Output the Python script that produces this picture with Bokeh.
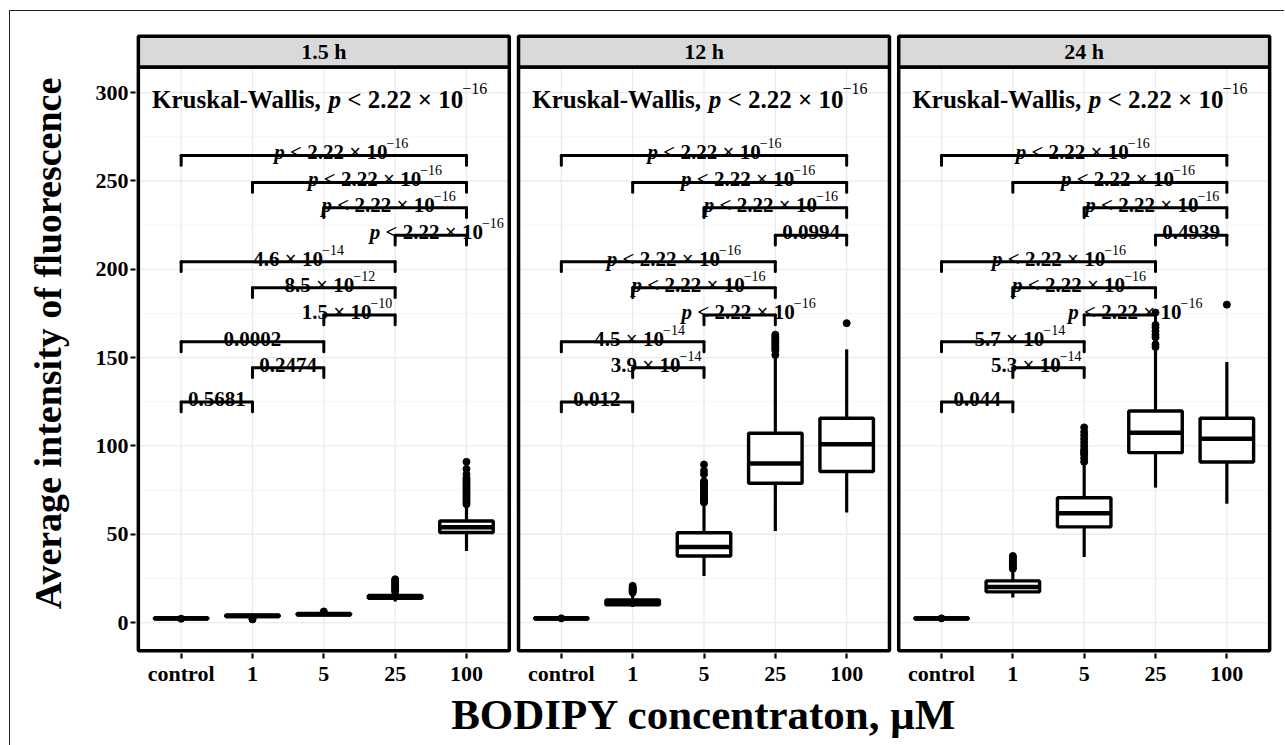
from bokeh.plotting import figure
from bokeh.models import ColumnDataSource, FixedTicker, Range1d, CustomJSTickFormatter
from bokeh.core.properties import value
from bokeh.embed import file_html
from bokeh.resources import INLINE

# ---------------- data ----------------
panels = ["1.5 h", "12 h", "24 h"]
categories = ["control", "1", "5", "25", "100"]

# box statistics (lower whisker, q1, median, q3, upper whisker) per panel
lo_15 = [1.6, 2.6, 3.8, 12.0, 40.5]
q1_15 = [2.0, 3.4, 4.3, 13.8, 51.0]
med_15 = [2.4, 3.8, 4.7, 14.5, 54.0]
q3_15 = [2.8, 4.3, 5.2, 15.3, 57.5]
hi_15 = [3.2, 5.0, 6.0, 17.0, 66.5]
out_15 = [[2.2], [1.8, 2.1], [6.3],
          [17.5, 18.5, 19.5, 20.5, 21.5, 22.5, 23.5, 24.5],
          [67, 68, 69, 70, 71, 72, 73, 74, 75, 76, 77, 78, 79, 80, 81, 82, 84, 87, 91]]

lo_12 = [1.5, 8.8, 26.4, 51.9, 62.3]
q1_12 = [2.0, 10.0, 37.7, 78.9, 85.5]
med_12 = [2.3, 11.5, 42.8, 90.0, 101.0]
q3_12 = [2.7, 12.8, 50.9, 107.2, 115.7]
hi_12 = [3.3, 16.5, 67.0, 151.0, 154.7]
out_12 = [[2.4], [17.0, 17.5, 18.0, 18.5, 19.0, 19.5, 20.0, 20.8],
          [68, 69, 70, 71, 72, 73, 74, 75, 76, 77, 78, 79, 80, 84, 86, 89.5],
          [151.5, 154, 155, 156, 157, 158, 159, 160, 161, 162, 163],
          [169.5]]

lo_24 = [1.6, 14.2, 37.2, 76.4, 67.3]
q1_24 = [2.0, 17.4, 54.2, 96.2, 90.9]
med_24 = [2.3, 20.2, 61.9, 107.5, 104.1]
q3_24 = [2.7, 23.6, 70.7, 119.8, 115.7]
hi_24 = [3.2, 29.5, 89.6, 154.7, 147.5]
out_24 = [[2.4], [30.5, 31, 32, 33, 34, 35, 36, 37, 37.7],
          [91, 93, 95, 96, 97, 98, 100, 102, 104, 106, 108, 110.5],
          [156, 157.5, 161.5, 163, 165, 167, 168.5, 175.5],
          [180]]

# pairwise comparisons (group indices) and bracket heights
pairs = [(0, 4), (1, 4), (2, 4), (3, 4), (0, 3), (1, 3), (2, 3), (0, 2), (1, 2), (0, 1)]
bracket_y = [264.5, 249.2, 234.9, 219.3, 204.3, 189.6, 174.2, 159.0, 144.3, 124.9]
p_15 = ["p < 2.22e-16", "p < 2.22e-16", "p < 2.22e-16", "p < 2.22e-16",
        "4.6e-14", "8.5e-12", "1.5e-10", "0.0002", "0.2474", "0.5681"]
p_12 = ["p < 2.22e-16", "p < 2.22e-16", "p < 2.22e-16", "0.0994",
        "p < 2.22e-16", "p < 2.22e-16", "p < 2.22e-16", "4.5e-14", "3.9e-14", "0.012"]
p_24 = ["p < 2.22e-16", "p < 2.22e-16", "p < 2.22e-16", "0.4939",
        "p < 2.22e-16", "p < 2.22e-16", "p < 2.22e-16", "5.7e-14", "5.3e-14", "0.044"]
kw_label = "Kruskal-Wallis, p < 2.22e-16"
y_ticks = [0, 50, 100, 150, 200, 250, 300]

# ---------------- layout constants ----------------
PXU = 71.3                 # px per category unit
OFF = 380.0 / PXU          # panel offset in x units
X0 = [0.0, OFF, 2 * OFF]
Y_LO, Y_HI, STRIP_TOP = -16.0, 314.5, 332.0
BOXW = 0.75
label_nudge = [[18, 16, -6, 6.5, 11, 6.5, -12, 0, 0, 0],
               [11, 9, -4, 0, 6, -5, 9.5, 7.5, -11.7, 0],
               [-1, 8.6, -2.7, 0, 11, -4.7, 16, 7.5, -11.7, 0]]
FONT = "Liberation Serif"
NB = "\u00a0"

stats = [(lo_15, q1_15, med_15, q3_15, hi_15, out_15),
         (lo_12, q1_12, med_12, q3_12, hi_12, out_12),
         (lo_24, q1_24, med_24, q3_24, hi_24, out_24)]
plabels = [p_15, p_12, p_24]

# approximate glyph advance widths (Times-metric), per 1000 em
BOLD_W = {' ': 250, NB: 250, '.': 250, ',': 250, '-': 333, '<': 570, '\u00d7': 570, 'K': 778,
          'W': 1000, 'a': 500, 'i': 278, 'k': 556, 'l': 278, 'r': 444, 's': 389, 'u': 556}
REG_W = {'\u2212': 564}


def text_width(s, style, size):
    tot = 0
    for ch in s:
        if ch.isdigit():
            tot += 500
        elif style == "bold italic":
            tot += 500
        elif style == "bold":
            tot += BOLD_W.get(ch, 500)
        else:
            tot += REG_W.get(ch, 500)
    return tot / 1000.0 * size


def pieces(label, main, sup, rise):
    out = []
    s = label
    if s.startswith("Kruskal-Wallis, "):
        out.append(("Kruskal-Wallis," + NB, "bold", main, 0))
        s = s[len("Kruskal-Wallis, "):]
    if s.startswith("p <"):
        m, e = s[3:].strip().split("e")
        out.append(("p", "bold italic", main, 0))
        out.append((NB + "<" + NB + m + NB + "\u00d7" + NB + "10", "bold", main, 0))
        out.append((e.replace("-", "\u2212"), "normal", sup, rise))
    elif "e" in s:
        m, e = s.split("e")
        out.append((m + NB + "\u00d7" + NB + "10", "bold", main, 0))
        out.append((e.replace("-", "\u2212"), "normal", sup, rise))
    else:
        out.append((s, "bold", main, 0))
    return out


groups = {}


def add_label(x, y, label, main, sup, rise, align_center, nudge, base_off):
    ps = pieces(label, main, sup, rise)
    widths = [text_width(t, st, sz) for t, st, sz, r in ps]
    total = sum(widths)
    start = nudge - total / 2.0 if align_center else nudge
    cur = start
    for (t, st, sz, r), w in zip(ps, widths):
        key = (st, sz)
        g = groups.setdefault(key, dict(x=[], y=[], text=[], xo=[], yo=[]))
        g["x"].append(x)
        g["y"].append(y)
        g["text"].append(t)
        g["xo"].append(cur - (1 if st == "normal" else 0))
        g["yo"].append(base_off - r)
        cur += w


# ---------------- figure ----------------
p = figure(x_range=Range1d(-0.64, 2 * OFF + 4.64), y_range=Range1d(-17.5, 333.5),
           frame_width=1137, frame_height=620,
           min_border_left=125, min_border_right=12, min_border_top=22, min_border_bottom=92,
           output_backend="svg", toolbar_location=None,
           margin=(10, 0, 0, 9),
           styles={"border-left": "1px solid #222", "border-top": "1px solid #222"})
p.grid.visible = False
p.outline_line_color = None
p.background_fill_color = "white"
p.border_fill_color = "white"

# gridlines per panel
gx0, gy0, gx1, gy1 = [], [], [], []
mx0, my0, mx1, my1 = [], [], [], []
for k in range(3):
    xl, xr = X0[k] - 0.6, X0[k] + 4.6
    for yt in y_ticks:
        gx0.append(xl); gx1.append(xr); gy0.append(yt); gy1.append(yt)
    for yt in y_ticks[:-1]:
        mx0.append(xl); mx1.append(xr); my0.append(yt + 25); my1.append(yt + 25)
    for i in range(len(categories)):
        gx0.append(X0[k] + i); gx1.append(X0[k] + i); gy0.append(Y_LO); gy1.append(Y_HI)
p.segment(mx0, my0, mx1, my1, line_color="#f2f2f2", line_width=0.8)
p.segment(gx0, gy0, gx1, gy1, line_color="#ebebeb", line_width=1.3)

# brackets
bx0, by0, bx1, by1 = [], [], [], []
TIP = 5.6
for k in range(3):
    for (a, b), yb in zip(pairs, bracket_y):
        xa, xb = X0[k] + a, X0[k] + b
        bx0 += [xa, xa, xb]; bx1 += [xb, xa, xb]
        by0 += [yb, yb, yb]; by1 += [yb, yb - TIP, yb - TIP]
p.segment(bx0, by0, bx1, by1, line_color="black", line_width=3, line_cap="round")

# boxplots
for k in range(3):
    lo, q1, med, q3, hi, outs = stats[k]
    xs = [X0[k] + i for i in range(len(categories))]
    p.segment(xs, q3, xs, hi, line_color="black", line_width=3.2)
    p.segment(xs, q1, xs, lo, line_color="black", line_width=3.2)
    p.quad(left=[x - BOXW / 2 for x in xs], right=[x + BOXW / 2 for x in xs],
           bottom=q1, top=q3, fill_color="white", line_color="black", line_width=3.4)
    p.segment([x - BOXW / 2 for x in xs], med, [x + BOXW / 2 for x in xs], med,
              line_color="black", line_width=4.5)
    ox, oy = [], []
    for x, o in zip(xs, outs):
        ox += [x] * len(o)
        oy += o
    p.scatter(ox, oy, size=7, color="black")

# labels
for k in range(3):
    for (a, b), yb, lab, nd in zip(pairs, bracket_y, plabels[k], label_nudge[k]):
        xc = X0[k] + (a + b) / 2.0
        add_label(xc, yb, lab, 21, 14, 9, True, nd, -3)
    add_label(X0[k] - 0.6, 296, kw_label, 25, 16, 11, False, 13.7, 0)

for (st, sz), g in groups.items():
    p.text(x="x", y="y", text="text", x_offset="xo", y_offset="yo",
           source=ColumnDataSource(g), text_font=value(FONT), text_font_style=st,
           text_font_size=f"{sz}px", text_color="black", text_align="left",
           text_baseline="alphabetic")

# panel borders and strips
pl = [X0[k] - 0.6 for k in range(3)]
pr = [X0[k] + 4.6 for k in range(3)]
p.quad(left=pl, right=pr, bottom=[Y_LO] * 3, top=[Y_HI] * 3, fill_color=None,
       line_color="black", line_width=3.5)
p.quad(left=pl, right=pr, bottom=[Y_HI] * 3, top=[STRIP_TOP] * 3, fill_color="#d9d9d9",
       line_color="black", line_width=3.5)
p.text(x=[X0[k] + 2 for k in range(3)], y=[(Y_HI + STRIP_TOP) / 2] * 3, text=panels,
       text_font=value(FONT), text_font_style="bold", text_font_size="22px",
       text_align="center", text_baseline="middle", text_color="black")

# axes
xt = [X0[k] + i for k in range(3) for i in range(len(categories))]
p.xaxis.ticker = FixedTicker(ticks=xt)
p.xaxis.formatter = CustomJSTickFormatter(args=dict(labs=categories),
                                          code="return labs[index % labs.length];")
p.yaxis.ticker = FixedTicker(ticks=y_ticks)
for ax in (p.xaxis[0], p.yaxis[0]):
    ax.axis_line_color = None
    ax.major_tick_in = 0
    ax.major_tick_out = 5
    ax.major_tick_line_width = 2.2
    ax.major_tick_line_color = "black"
    ax.minor_tick_line_color = None
    ax.major_label_text_font = FONT
    ax.major_label_text_font_style = "bold"
    ax.major_label_text_font_size = "22px"
    ax.major_label_text_color = "black"
    ax.major_label_standoff = 2
    ax.axis_label_text_font = FONT
    ax.axis_label_text_font_style = "bold"
    ax.axis_label_text_color = "black"
p.xaxis.axis_label = "BODIPY concentraton, \u03bcM"
p.xaxis.axis_label_text_font_size = "43px"
p.xaxis.axis_label_standoff = 2
p.yaxis.axis_label = "Average intensity of fluorescence"
p.yaxis.axis_label_text_font_size = "38px"
p.yaxis.axis_label_standoff = 24

open("out.html", "w").write(file_html(p, INLINE))
